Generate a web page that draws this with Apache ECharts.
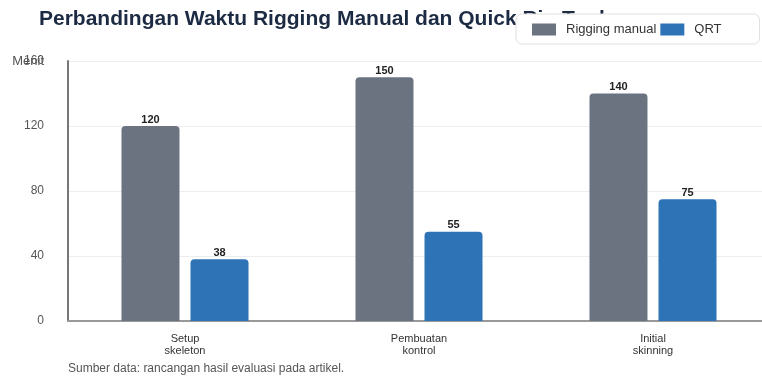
<!DOCTYPE html>
<html>
<head>
<meta charset="utf-8">
<script src="https://cdn.jsdelivr.net/npm/echarts@6/dist/echarts.min.js"></script>
<style>
html,body{margin:0;padding:0;background:#fff;overflow:hidden;width:762px;height:376px;}
#c{width:770px;height:376px;}
</style>
</head>
<body>
<div id="c"></div>
<script>
const categories = ['Setup\nskeleton', 'Pembuatan\nkontrol', 'Initial\nskinning'];
const manualValues = [120, 150, 140];
const qrtValues = [38, 55, 75];
const seriesNames = ['Rigging manual', 'QRT'];
const yTicks = [0, 40, 80, 120, 160];

const font = '"Liberation Sans", Arial, sans-serif';
const chart = echarts.init(document.getElementById('c'));
chart.setOption({
  backgroundColor: '#fff',
  animation: false,
  textStyle: { fontFamily: font },
  title: [{
    text: 'Perbandingan Waktu Rigging Manual dan Quick Rig Tool',
    left: 34, top: 4,
    textStyle: { fontSize: 21, fontWeight: 'bold', color: '#1c2b43', fontFamily: font }
  }, {
    text: 'Sumber data: rancangan hasil evaluasi pada artikel.',
    left: 63, top: 358,
    textStyle: { fontSize: 12, fontWeight: 'normal', color: '#555', fontFamily: font }
  }],
  legend: {
    data: seriesNames,
    orient: 'horizontal',
    left: 516, top: 14, width: 300,
    z: 10,
    backgroundColor: '#fff',
    borderColor: '#e0e0e0',
    borderWidth: 1,
    borderRadius: 6,
    padding: [9, 38, 8, 16],
    itemWidth: 24, itemHeight: 12, itemGap: 4,
    icon: 'rect',
    textStyle: { fontSize: 13, color: '#333', fontFamily: font, padding: [0, 0, 0, 5] }
  },
  grid: { left: 68, top: 61, bottom: 55, right: 0, containLabel: false },
  xAxis: {
    type: 'category',
    data: categories,
    axisLine: { lineStyle: { color: '#999', width: 2 } },
    axisTick: { show: false },
    axisLabel: { fontSize: 11, color: '#333', lineHeight: 12, margin: 12, fontFamily: font }
  },
  yAxis: {
    type: 'value',
    min: yTicks[0], max: yTicks[yTicks.length - 1], interval: 40,
    name: 'Menit',
    nameLocation: 'end',
    nameGap: 0,
    nameMoveOverlap: false,
    nameTextStyle: { align: 'right', verticalAlign: 'middle', fontSize: 13, color: '#555', padding: [0, 24, 0, 0], fontFamily: font },
    axisLine: { show: true, lineStyle: { color: '#777', width: 2 } },
    axisTick: { show: false },
    axisLabel: { fontSize: 12, color: '#555', margin: 24, fontFamily: font },
    splitLine: { lineStyle: { color: '#eeeeee', width: 1 } }
  },
  series: [{
    name: seriesNames[0], type: 'bar', data: manualValues,
    barWidth: 58, barGap: '19%',
    itemStyle: { color: '#6b7280', borderRadius: [4, 4, 0, 0] },
    label: { show: true, position: 'top', distance: 1, fontSize: 11, fontWeight: 'bold', color: '#222', fontFamily: font }
  }, {
    name: seriesNames[1], type: 'bar', data: qrtValues,
    barWidth: 58,
    itemStyle: { color: '#2e73b6', borderRadius: [4, 4, 0, 0] },
    label: { show: true, position: 'top', distance: 1, fontSize: 11, fontWeight: 'bold', color: '#222', fontFamily: font }
  }]
});
</script>
</body>
</html>
